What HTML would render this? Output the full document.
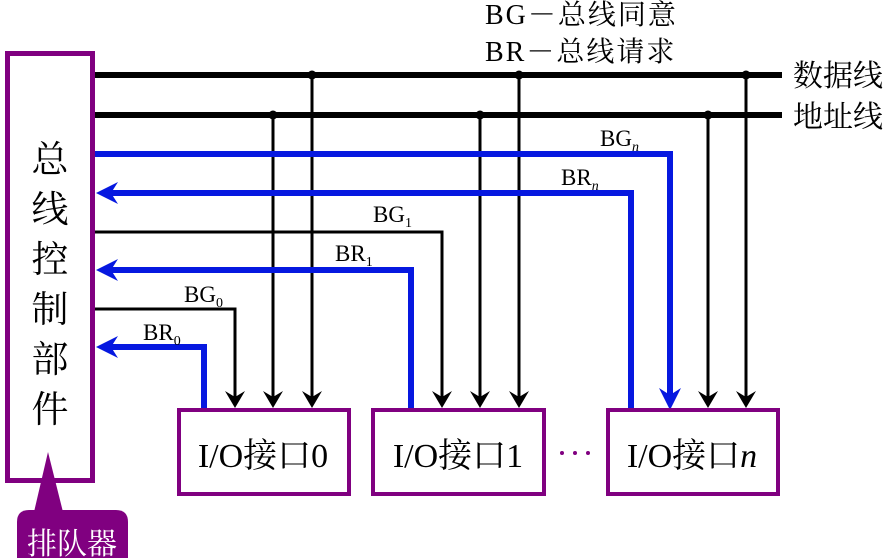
<!DOCTYPE html>
<html><head><meta charset="utf-8"><style>
html,body{margin:0;padding:0;background:#fff;width:884px;height:558px;overflow:hidden}
svg text{font-family:"Liberation Serif","Noto Serif CJK SC",serif}
</style></head><body>
<svg width="884" height="558" viewBox="0 0 884 558" xmlns="http://www.w3.org/2000/svg">
<!-- controller -->
<rect x="7.5" y="53.5" width="85" height="427" fill="#fff" stroke="#800080" stroke-width="5"/>
<g font-size="37" text-anchor="middle" fill="#000">
<text x="50" y="172">总</text><text x="50" y="222">线</text><text x="50" y="272">控</text>
<text x="50" y="322">制</text><text x="50" y="372">部</text><text x="50" y="422">件</text>
</g>
<!-- queue -->
<polygon points="48,452 34,512 63,512" fill="#800080"/>
<path d="M17,558 V522 Q17,510 29,510 H116 Q128,510 128,522 V558 Z" fill="#800080"/>
<text x="72" y="554" font-size="30" fill="#fff" text-anchor="middle">排队器</text>
<!-- legend -->
<text x="485" y="24" font-size="28" letter-spacing="2">BG－总线同意</text>
<text x="485" y="61" font-size="28" letter-spacing="2">BR－总线请求</text>
<text x="793" y="86" font-size="30">数据线</text>
<text x="793" y="127" font-size="30">地址线</text>
<!-- buses -->
<line x1="95" y1="75" x2="782" y2="75" stroke="#000" stroke-width="6"/>
<line x1="95" y1="115" x2="782" y2="115" stroke="#000" stroke-width="6"/>
<g fill="#000">
<circle cx="312" cy="75" r="4.5"/><circle cx="519" cy="75" r="4.5"/><circle cx="746" cy="75" r="4.5"/>
<circle cx="273" cy="115" r="4.5"/><circle cx="480" cy="115" r="4.5"/><circle cx="708" cy="115" r="4.5"/>
</g>
<g stroke="#000" stroke-width="3" fill="none">
<line x1="312" y1="75" x2="312" y2="400"/><line x1="519" y1="75" x2="519" y2="400"/><line x1="746" y1="75" x2="746" y2="400"/>
<line x1="273" y1="115" x2="273" y2="400"/><line x1="480" y1="115" x2="480" y2="400"/><line x1="708" y1="115" x2="708" y2="400"/>
<polyline points="95,232 442,232 442,400"/>
<polyline points="95,309 235,309 235,400"/>
</g>
<g fill="#000">
<path d="M312,408 l-10,-17 l10,6 l10,-6z"/><path d="M519,408 l-10,-17 l10,6 l10,-6z"/><path d="M746,408 l-10,-17 l10,6 l10,-6z"/>
<path d="M273,408 l-10,-17 l10,6 l10,-6z"/><path d="M480,408 l-10,-17 l10,6 l10,-6z"/><path d="M708,408 l-10,-17 l10,6 l10,-6z"/>
<path d="M442,408 l-10,-17 l10,6 l10,-6z"/><path d="M235,408 l-10,-17 l10,6 l10,-6z"/>
</g>
<!-- blue -->
<g stroke="#0618e0" stroke-width="6" fill="none">
<polyline points="95,154 670,154 670,395"/>
<polyline points="631,408 631,193 110,193"/>
<polyline points="411,408 411,270 110,270"/>
<polyline points="204,408 204,347 110,347"/>
</g>
<g fill="#0618e0">
<path d="M670,410 l-11,-22 l11,7 l11,-7z"/>
<path d="M96,193 l22,-11 l-7,11 l7,11z"/>
<path d="M96,270 l22,-11 l-7,11 l7,11z"/>
<path d="M96,347 l22,-11 l-7,11 l7,11z"/>
</g>
<!-- labels -->
<g font-size="23" fill="#000">
<text x="600" y="146">BG<tspan font-size="14" font-style="italic" dy="5">n</tspan></text>
<text x="561" y="185">BR<tspan font-size="14" font-style="italic" dy="5">n</tspan></text>
<text x="373" y="222">BG<tspan font-size="14" dy="5">1</tspan></text>
<text x="335" y="261">BR<tspan font-size="14" dy="5">1</tspan></text>
<text x="184" y="302">BG<tspan font-size="14" dy="5">0</tspan></text>
<text x="143" y="340">BR<tspan font-size="14" dy="5">0</tspan></text>
</g>
<!-- IO boxes -->
<g fill="#fff" stroke="#800080" stroke-width="4">
<rect x="179" y="410" width="170" height="84"/>
<rect x="373" y="410" width="171" height="84"/>
<rect x="608" y="410" width="170" height="84"/>
</g>
<g font-size="34" text-anchor="middle" fill="#000">
<text x="263" y="467">I/O接口0</text>
<text x="458" y="467">I/O接口1</text>
<text x="692" y="467">I/O接口<tspan font-style="italic">n</tspan></text>
</g>
<g fill="#800080"><circle cx="562" cy="453" r="2"/><circle cx="575" cy="453" r="2"/><circle cx="588" cy="453" r="2"/></g>
</svg>
</body></html>
